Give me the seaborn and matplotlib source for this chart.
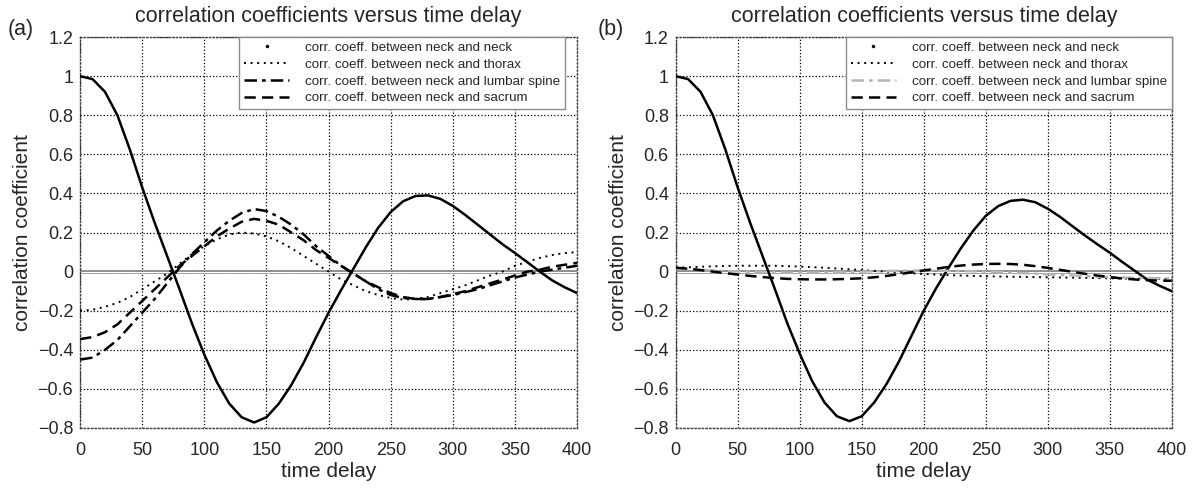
import numpy as np
import pandas as pd
import matplotlib
matplotlib.use('Agg')
import matplotlib.pyplot as plt
from matplotlib.lines import Line2D
import seaborn as sns

# time delay samples (every 10 units)
delay = list(range(0, 401, 10))

# panel (a)
a_neck = [1.00, 0.985, 0.92, 0.80, 0.625, 0.43, 0.25, 0.08, -0.09, -0.265, -0.425,
          -0.565, -0.675, -0.745, -0.772, -0.745, -0.675, -0.58, -0.465, -0.335, -0.21,
          -0.095, 0.015, 0.125, 0.225, 0.305, 0.36, 0.387, 0.39, 0.372, 0.336,
          0.29, 0.24, 0.19, 0.14, 0.095, 0.048, 0.0, -0.045, -0.08, -0.11]
a_thorax = [-0.20, -0.195, -0.18, -0.16, -0.13, -0.09, -0.05, -0.01, 0.04, 0.09, 0.13,
            0.165, 0.19, 0.20, 0.195, 0.18, 0.155, 0.12, 0.08, 0.04, 0.00,
            -0.04, -0.07, -0.10, -0.12, -0.135, -0.143, -0.14, -0.13, -0.11, -0.09,
            -0.07, -0.045, -0.02, 0.00, 0.03, 0.05, 0.07, 0.085, 0.095, 0.10]
a_lumbar = [-0.45, -0.44, -0.40, -0.35, -0.28, -0.21, -0.14, -0.06, 0.02, 0.09, 0.15,
            0.21, 0.26, 0.30, 0.32, 0.31, 0.28, 0.24, 0.19, 0.13, 0.08,
            0.03, -0.01, -0.05, -0.09, -0.12, -0.135, -0.14, -0.14, -0.13, -0.12,
            -0.105, -0.09, -0.07, -0.05, -0.03, -0.015, 0.00, 0.01, 0.02, 0.03]
a_sacrum = [-0.345, -0.335, -0.31, -0.27, -0.21, -0.15, -0.09, -0.03, 0.03, 0.08, 0.13,
            0.18, 0.22, 0.255, 0.27, 0.26, 0.24, 0.20, 0.16, 0.11, 0.07,
            0.03, -0.01, -0.05, -0.08, -0.11, -0.13, -0.14, -0.14, -0.13, -0.115,
            -0.10, -0.08, -0.06, -0.04, -0.02, 0.00, 0.01, 0.025, 0.035, 0.045]

# panel (b)
b_neck = [1.00, 0.985, 0.92, 0.80, 0.625, 0.43, 0.25, 0.08, -0.09, -0.265, -0.42,
          -0.56, -0.67, -0.74, -0.765, -0.74, -0.67, -0.575, -0.46, -0.33, -0.20,
          -0.085, 0.02, 0.12, 0.21, 0.285, 0.335, 0.362, 0.368, 0.355, 0.322,
          0.28, 0.232, 0.185, 0.14, 0.097, 0.05, 0.005, -0.04, -0.072, -0.10]
b_thorax = [0.02, 0.022, 0.025, 0.027, 0.029, 0.03, 0.03, 0.03, 0.03, 0.028, 0.026,
            0.023, 0.02, 0.016, 0.012, 0.008, 0.004, 0.0, -0.004, -0.008, -0.012,
            -0.015, -0.018, -0.02, -0.022, -0.024, -0.025, -0.026, -0.027, -0.028, -0.029,
            -0.03, -0.031, -0.032, -0.033, -0.034, -0.035, -0.036, -0.036, -0.037, -0.037]
b_lumbar = [0.015, 0.012, 0.009, 0.006, 0.003, 0.001, -0.001, -0.003, -0.004, -0.005, -0.005,
            -0.005, -0.004, -0.003, -0.002, 0.0, 0.002, 0.003, 0.004, 0.005, 0.005,
            0.005, 0.004, 0.003, 0.002, 0.0, -0.002, -0.005, -0.008, -0.011, -0.014,
            -0.017, -0.02, -0.023, -0.026, -0.028, -0.03, -0.032, -0.033, -0.034, -0.035]
b_sacrum = [0.02, 0.015, 0.008, 0.0, -0.008, -0.015, -0.022, -0.028, -0.033, -0.037, -0.039,
            -0.04, -0.04, -0.039, -0.037, -0.034, -0.029, -0.022, -0.013, -0.004, 0.006,
            0.015, 0.024, 0.031, 0.036, 0.039, 0.04, 0.039, 0.035, 0.028, 0.019,
            0.009, -0.001, -0.011, -0.02, -0.028, -0.035, -0.04, -0.044, -0.046, -0.047]

labels = ['corr. coeff. between neck and neck',
          'corr. coeff. between neck and thorax',
          'corr. coeff. between neck and lumbar spine',
          'corr. coeff. between neck and sacrum']
xticks = [0, 50, 100, 150, 200, 250, 300, 350, 400]
yticks = [-0.8, -0.6, -0.4, -0.2, 0, 0.2, 0.4, 0.6, 0.8, 1, 1.2]
ytick_labels = ['\u22120.8', '\u22120.6', '\u22120.4', '\u22120.2', '0', '0.2',
                '0.4', '0.6', '0.8', '1', '1.2']

sns.set_style('white')
plt.rcParams['font.family'] = ['Liberation Sans', 'DejaVu Sans']

fig = plt.figure(figsize=(11.96, 4.88), dpi=100)
ax_a = fig.add_axes([0.067, 0.123, 0.4155, 0.801])
ax_b = fig.add_axes([0.565, 0.123, 0.4147, 0.801])

# line styles: neck, thorax, lumbar, sacrum
styles = [
    dict(linestyle='-', linewidth=1.8),
    dict(linestyle=(0, (1, 2.4)), linewidth=1.4),
    dict(linestyle=(0, (5, 2, 1.5, 2)), linewidth=1.8),
    dict(linestyle=(0, (4.5, 2.5)), linewidth=1.8),
]

panels = [
    (ax_a, [a_neck, a_thorax, a_lumbar, a_sacrum], ['black'] * 4, 0.976, '(a)', 0.017),
    (ax_b, [b_neck, b_thorax, b_lumbar, b_sacrum], ['black', 'black', '#b5b5b5', 'black'], 1.0, '(b)', 0.511),
]

for ax, series, colors, leg_x, tag, tag_x in panels:
    # zero reference line (grey double line)
    ax.axhline(0, color='0.5', linewidth=2.6, zorder=1)
    ax.axhline(0, color='white', linewidth=0.9, zorder=1.1)

    for vals, col, st in zip(series, colors, styles):
        df = pd.DataFrame({'delay': delay, 'coef': vals})
        sns.lineplot(data=df, x='delay', y='coef', ax=ax, color=col, zorder=3,
                     solid_joinstyle='round', **st)

    ax.set_xlim(0, 400)
    ax.set_ylim(-0.8, 1.2)
    ax.set_xticks(xticks)
    ax.set_yticks(yticks)
    ax.set_yticklabels(ytick_labels)
    ax.tick_params(labelsize=13, length=0)
    ax.tick_params(axis='x', pad=10)
    ax.tick_params(axis='y', pad=5)
    ax.grid(True, linestyle=':', color='black', linewidth=0.9)
    for sp in ax.spines.values():
        sp.set_linestyle(':')
        sp.set_color('0.25')
        sp.set_linewidth(1.0)
    ax.set_xlabel('time delay', fontsize=15, labelpad=2)
    ax.set_ylabel('correlation coefficient', fontsize=15, labelpad=4)
    ax.set_title('correlation coefficients versus time delay', fontsize=15.5, pad=11)
    fig.text(tag_x, 0.939, tag, fontsize=15.5, ha='center', va='center')

    handles = [
        Line2D([], [], linestyle='none', marker='.', markersize=3, color=colors[0]),
        Line2D([], [], color=colors[1], **styles[1]),
        Line2D([], [], color=colors[2], **styles[2]),
        Line2D([], [], color=colors[3], **styles[3]),
    ]
    leg = ax.legend(handles, labels, loc='upper right', bbox_to_anchor=(leg_x, 1.0),
                    borderaxespad=0, fontsize=9.6, handlelength=3.4, handletextpad=1.2,
                    labelspacing=0.33, borderpad=0.35, fancybox=False, framealpha=1)
    leg.get_frame().set_edgecolor('0.55')
    leg.get_frame().set_linewidth(1.0)
    leg.set_zorder(5)

fig.savefig('out.png', dpi=100)
